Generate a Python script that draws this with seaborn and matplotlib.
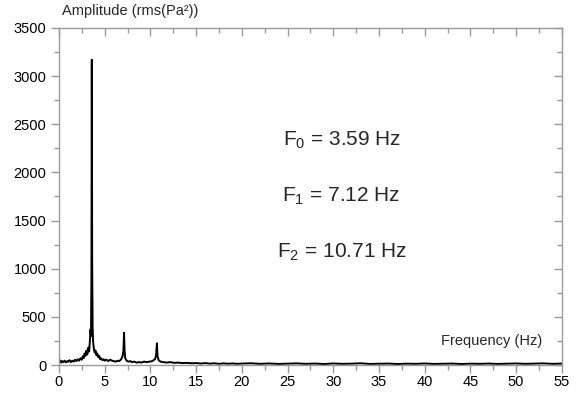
import matplotlib
matplotlib.use("Agg")
import matplotlib.pyplot as plt
from matplotlib.ticker import MultipleLocator
import seaborn as sns
import pandas as pd

# ---- data ----
freq_low = [0.0, 0.05, 0.15, 0.25, 0.35, 0.5, 0.6, 0.75, 0.9, 1.0, 1.15, 1.3, 1.45, 1.6,
            1.75, 1.9, 2.05, 2.2, 2.35, 2.5, 2.6, 2.7, 2.8, 2.9, 3.0, 3.1, 3.2, 3.3, 3.38,
            3.45, 3.5, 3.55, 3.59, 3.63, 3.68, 3.73, 3.8, 3.9, 4.0, 4.1, 4.2, 4.3, 4.4,
            4.5, 4.6, 4.75, 4.9, 5.0, 5.2, 5.4, 5.6, 5.8, 6.0, 6.2, 6.4, 6.6, 6.8, 6.95,
            7.05, 7.12, 7.18, 7.25, 7.4, 7.6, 7.8, 8.0, 8.2, 8.5, 8.8, 9.0, 9.3, 9.6, 9.9,
            10.2, 10.5, 10.62, 10.71, 10.78, 10.9, 11.1, 11.4, 11.8, 12.2, 12.6, 13.0,
            13.5, 14.0, 14.5, 15.0]
amp_low = [80, 30, 45, 25, 40, 30, 45, 28, 40, 35, 50, 30, 45, 35,
           55, 40, 60, 45, 70, 55, 90, 70, 120, 95, 150, 110, 180, 140, 250,
           370, 300, 900, 3170, 1100, 400, 250, 180, 130, 150, 100, 120, 80, 95,
           60, 70, 50, 60, 45, 55, 40, 55, 45, 40, 35, 45, 40, 60, 90,
           150, 335, 140, 70, 45, 35, 40, 30, 35, 25, 30, 25, 35, 30, 35,
           40, 60, 100, 225, 90, 50, 35, 30, 25, 30, 22, 25,
           20, 22, 18, 20]
freq_high = [15.5, 16.0, 16.5, 17.0, 17.5, 18.0, 18.5, 19.0, 19.5, 20.0, 21.0, 22.0, 23.0,
             24.0, 25.0, 26.0, 27.0, 28.0, 29.0, 30.0, 31.0, 32.0, 33.0, 34.0, 35.0, 36.0,
             37.0, 38.0, 39.0, 40.0, 41.0, 42.0, 43.0, 44.0, 45.0, 46.0, 47.0, 48.0, 49.0,
             50.0, 51.0, 52.0, 53.0, 54.0, 55.0]
amp_high = [15, 20, 14, 18, 12, 17, 13, 16, 12, 15, 18, 12, 16, 11, 14, 17, 12, 15, 10,
            16, 12, 14, 18, 11, 13, 15, 10, 14, 12, 16, 11, 13, 15, 10, 14, 12, 15, 11,
            13, 16, 12, 14, 17, 12, 15]
peak_labels = ["F$_0$ = 3.59 Hz", "F$_1$ = 7.12 Hz", "F$_2$ = 10.71 Hz"]
x_ticks = [0, 5, 10, 15, 20, 25, 30, 35, 40, 45, 50, 55]
y_ticks = [0, 500, 1000, 1500, 2000, 2500, 3000, 3500]

df = pd.DataFrame({"freq": freq_low + freq_high, "amp": amp_low + amp_high})

sns.set_style("white")
plt.rcParams["font.family"] = ["Liberation Sans", "DejaVu Sans"]
plt.rcParams["mathtext.fontset"] = "custom"
plt.rcParams["mathtext.rm"] = "Liberation Sans"
plt.rcParams["mathtext.it"] = "Liberation Sans"

fig = plt.figure(figsize=(5.81, 3.94), dpi=100)
ax = fig.add_axes([0.1015, 0.0736, 0.8655, 0.8554])

sns.lineplot(data=df, x="freq", y="amp", ax=ax, color="black", linewidth=1.4,
             sort=False, estimator=None)

ax.set_xlim(0, 55)
ax.set_ylim(0, 3500)
ax.set_xticks(x_ticks)
ax.set_yticks(y_ticks)
ax.xaxis.set_minor_locator(MultipleLocator(2.5))
ax.yaxis.set_minor_locator(MultipleLocator(250))
ax.set_xlabel("")
ax.set_ylabel("")

gray = "#9a9a9a"
for s in ax.spines.values():
    s.set_color(gray)
    s.set_linewidth(1.0)

ax.tick_params(axis="both", which="both", colors=gray, labelcolor="black",
               labelsize=10.5, width=1.0)
ax.tick_params(axis="both", which="major", length=6)
ax.tick_params(axis="both", which="minor", length=3.5)
ax.tick_params(axis="x", which="both", direction="out", bottom=True, top=True, pad=1.5)
ax.tick_params(axis="y", which="both", direction="out", left=True, right=True, pad=3)

for t in ax.xaxis.get_major_ticks() + ax.xaxis.get_minor_ticks():
    t.tick2line.set_marker(matplotlib.lines.TICKDOWN)
for t in ax.yaxis.get_major_ticks() + ax.yaxis.get_minor_ticks():
    t.tick2line.set_marker(matplotlib.lines.TICKLEFT)

fig.text(0.107, 0.972, "Amplitude (rms(Pa²))", fontsize=10.5, ha="left", va="center")
ax.text(0.962, 0.071, "Frequency (Hz)", transform=ax.transAxes, fontsize=10.5,
        ha="right", va="center")

for lab, yv in zip(peak_labels, [2338, 1756, 1174]):
    ax.text(30.9, yv, lab, fontsize=15, ha="center", va="center")

fig.savefig("out.png", dpi=100)
